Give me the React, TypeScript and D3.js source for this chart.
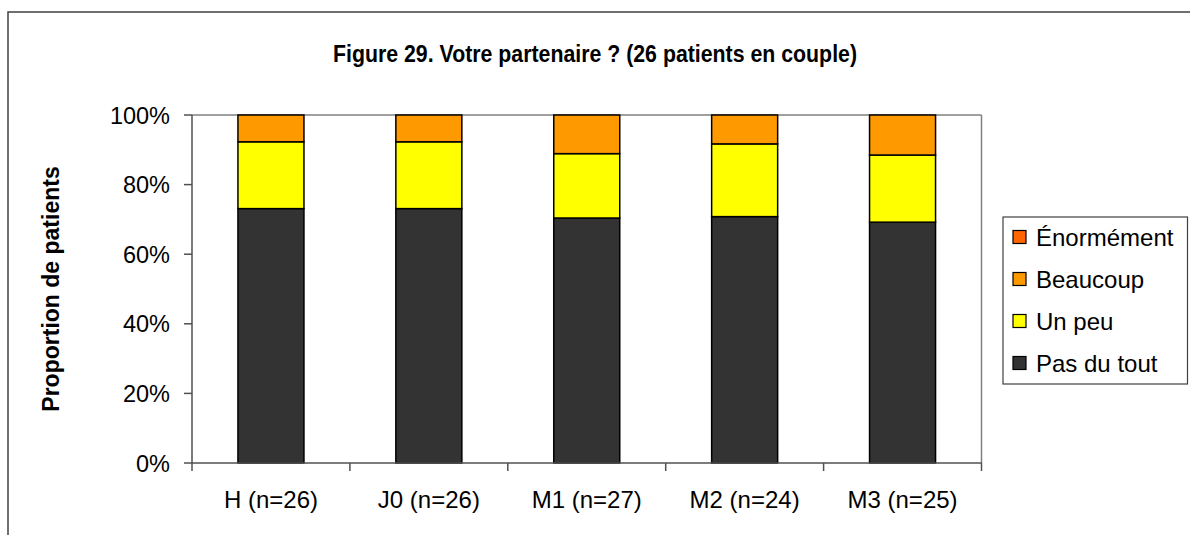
import React from "react";
import * as d3 from "d3";

const categories = ["H (n=26)", "J0 (n=26)", "M1 (n=27)", "M2 (n=24)", "M3 (n=25)"];
const seriesNames = ["Pas du tout", "Un peu", "Beaucoup", "Énormément"];
const pasDuTout = [73.1, 73.1, 70.4, 70.8, 69.2];
const unPeu = [19.2, 19.2, 18.5, 20.9, 19.3];
const beaucoup = [7.7, 7.7, 11.1, 8.3, 11.5];
const enormement = [0, 0, 0, 0, 0];
const colors = ["#333333", "#FFFF00", "#FF9900", "#FF6600"];
const yTicks = [0, 20, 40, 60, 80, 100];

const W = 1190;
const H = 535;
const left = 192;
const right = 981.5;
const top = 115;
const bottom = 463;

export default function App() {
  const x = d3.scaleBand<string>().domain(categories).range([left, right]).padding(0);
  const y = d3.scaleLinear().domain([0, 100]).range([bottom, top]);
  const rows = categories.map((c, i) => ({
    cat: c,
    "Pas du tout": pasDuTout[i],
    "Un peu": unPeu[i],
    Beaucoup: beaucoup[i],
    "Énormément": enormement[i],
  }));
  const stack = d3.stack<any>().keys(seriesNames)(rows);
  const barW = x.bandwidth() * 0.418;
  const font = "'Liberation Sans', Arial, sans-serif";
  const legendItems = [...seriesNames].reverse();
  const legendColors = [...colors].reverse();

  return (
    <svg width={W} height={H} style={{ position: "absolute", left: 0, top: 0 }} fontFamily={font}>
      <rect x={0} y={0} width={W} height={H} fill="#fff" />
      <rect x={8} y={12} width={1300} height={700} fill="none" stroke="#404040" strokeWidth={1.5} />
      <text x={595} y={62} textAnchor="middle" fontSize={23} fontWeight="bold" textLength={524} lengthAdjust="spacingAndGlyphs" fill="#000">
        Figure 29. Votre partenaire ? (26 patients en couple)
      </text>
      {/* plot area border */}
      <line x1={left} x2={right} y1={top} y2={top} stroke="#808080" strokeWidth={1.5} />
      <line x1={right} x2={right} y1={top} y2={bottom} stroke="#808080" strokeWidth={1.5} />
      {stack.map((s, si) => (
        <g key={s.key}>
          {s.map((d, i) => {
            const h = y(d[0]) - y(d[1]);
            if (h <= 0.01) return null;
            const cx = (x(categories[i]) as number) + x.bandwidth() / 2;
            return (
              <rect key={i} x={cx - barW / 2} y={y(d[1])} width={barW} height={h} fill={colors[si]} stroke="#000" strokeWidth={1.5} />
            );
          })}
        </g>
      ))}
      {/* axes */}
      <line x1={left} x2={left} y1={top} y2={bottom} stroke="#505050" strokeWidth={1.5} />
      <line x1={left} x2={right} y1={bottom} y2={bottom} stroke="#505050" strokeWidth={1.5} />
      {yTicks.map((t) => (
        <g key={t}>
          <line x1={left - 8} x2={left} y1={y(t)} y2={y(t)} stroke="#505050" strokeWidth={1.5} />
          <text x={170} y={y(t) + 8.5} textAnchor="end" fontSize={23.5} fill="#000">
            {t}%
          </text>
        </g>
      ))}
      {categories.map((c, i) => (
        <line key={"t" + i} x1={x(c) as number} x2={x(c) as number} y1={bottom} y2={bottom + 8} stroke="#505050" strokeWidth={1.5} />
      ))}
      <line x1={right} x2={right} y1={bottom} y2={bottom + 8} stroke="#505050" strokeWidth={1.5} />
      {categories.map((c) => (
        <text key={c} x={(x(c) as number) + x.bandwidth() / 2} y={508} textAnchor="middle" fontSize={24} fill="#000">
          {c}
        </text>
      ))}
      <text transform={`translate(59,${(top + bottom) / 2}) rotate(-90)`} textAnchor="middle" fontSize={23} fontWeight="bold" fill="#000">
        Proportion de patients
      </text>
      {/* legend */}
      <rect x={1003} y={217} width={184.5} height={167} fill="#fff" stroke="#404040" strokeWidth={1.2} />
      {legendItems.map((n, i) => {
        const cy = 237 + i * 42;
        return (
          <g key={n}>
            <rect x={1013} y={cy - 6.5} width={13} height={13} fill={legendColors[i]} stroke="#000" strokeWidth={1.2} />
            <text x={1036} y={cy + 8.5} fontSize={24} fill="#000">
              {n}
            </text>
          </g>
        );
      })}
    </svg>
  );
}
